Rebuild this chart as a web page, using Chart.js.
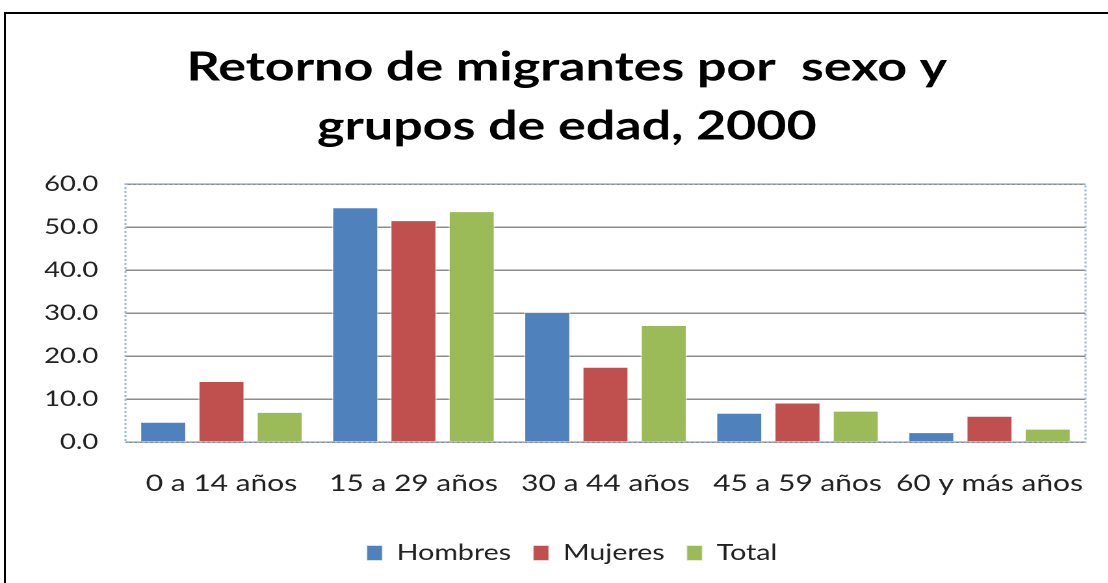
<!DOCTYPE html>
<html>
<head>
<meta charset="utf-8">
<script src="https://cdn.jsdelivr.net/npm/chart.js@4.4.0/dist/chart.umd.min.js"></script>
<style>
  html, body { margin: 0; padding: 0; background: #fff; overflow: hidden; }
  #frame { position: absolute; left: 4px; top: 12px; width: 1200px; height: 700px; border: 2px solid #000; }
  /* the reference is a horizontally stretched picture, so the chart is drawn narrow and widened */
  #wrap { position: absolute; left: 0; top: 0; width: 852px; height: 583px; transform: scaleX(1.3); transform-origin: 0 0; }
</style>
</head>
<body>
<div id="frame"></div>
<div id="wrap"><canvas id="bar-chart"></canvas></div>
<script>
// Data
const categories = ["0 a 14 años", "15 a 29 años", "30 a 44 años", "45 a 59 años", "60 y más años"];
const hombres = [4.7, 54.6, 30.2, 6.8, 2.3];
const mujeres = [14.2, 51.6, 17.5, 9.2, 6.1];
const total = [7.0, 53.7, 27.2, 7.3, 3.1];
const titleLines = ["Retorno de migrantes por  sexo y", "grupos de edad, 2000"];

// dotted border round the plot area
const plotBorder = {
    id: 'plotBorder',
    afterDraw(chart) {
        const a = chart.chartArea;
        const ctx = chart.ctx;
        ctx.save();
        ctx.strokeStyle = '#9db8e6';
        ctx.lineWidth = 1.6;
        ctx.setLineDash([2, 2]);
        ctx.strokeRect(a.left, a.top, a.right - a.left, a.bottom - a.top);
        ctx.restore();
    }
};

// title and legend sit a little right of centre in the reference
const boxShift = {
    id: 'boxShift',
    afterLayout(chart) {
        chart.legend.left += 16;
        chart.legend.right += 16;
        chart.titleBlock.left += 12;
        chart.titleBlock.right += 12;
    }
};

function makeSet(label, color, values) {
    return {
        label: label,
        backgroundColor: color,
        borderColor: 'rgba(255,255,255,0.5)',
        borderWidth: 1,
        data: values,
        barPercentage: 0.8,
        categoryPercentage: 0.91
    };
}

new Chart(document.getElementById("bar-chart"), {
    type: 'bar',
    data: {
        labels: categories,
        datasets: [
            makeSet("Hombres", "#4f81bd", hombres),
            makeSet("Mujeres", "#c0504d", mujeres),
            makeSet("Total", "#9bbb59", total)
        ]
    },
    plugins: [plotBorder, boxShift],
    options: {
        responsive: true,
        maintainAspectRatio: false,
        animation: false,
        devicePixelRatio: 2,
        layout: { padding: { left: 13, right: 17, top: 24, bottom: 9 } },
        plugins: {
            title: {
                display: true,
                text: titleLines,
                color: '#000',
                font: { family: 'Lato', size: 40, weight: 'bold', lineHeight: 1.475 },
                padding: { top: 14, bottom: 28 }
            },
            legend: {
                position: 'bottom',
                labels: {
                    color: '#222',
                    font: { family: 'Lato', size: 22 },
                    boxWidth: 12,
                    boxHeight: 15,
                    padding: 17
                }
            },
            tooltip: { enabled: false }
        },
        scales: {
            x: {
                grid: { display: false, drawTicks: false },
                border: { display: false },
                ticks: {
                    color: '#222',
                    font: { family: 'Lato', size: 23, lineHeight: 1.0 },
                    padding: 30,
                    maxRotation: 0,
                    autoSkip: false
                },
                // labels may run to the edge, as in the reference
                afterFit: scale => { scale.paddingLeft = 0; scale.paddingRight = 0; }
            },
            y: {
                min: 0,
                max: 60,
                ticks: {
                    stepSize: 10,
                    color: '#222',
                    font: { family: 'Lato', size: 21 },
                    padding: 21,
                    callback: v => v.toFixed(1)
                },
                grid: { color: '#8c8c8c', lineWidth: 1.5, drawTicks: false },
                border: { display: false }
            }
        }
    }
});
</script>
</body>
</html>
